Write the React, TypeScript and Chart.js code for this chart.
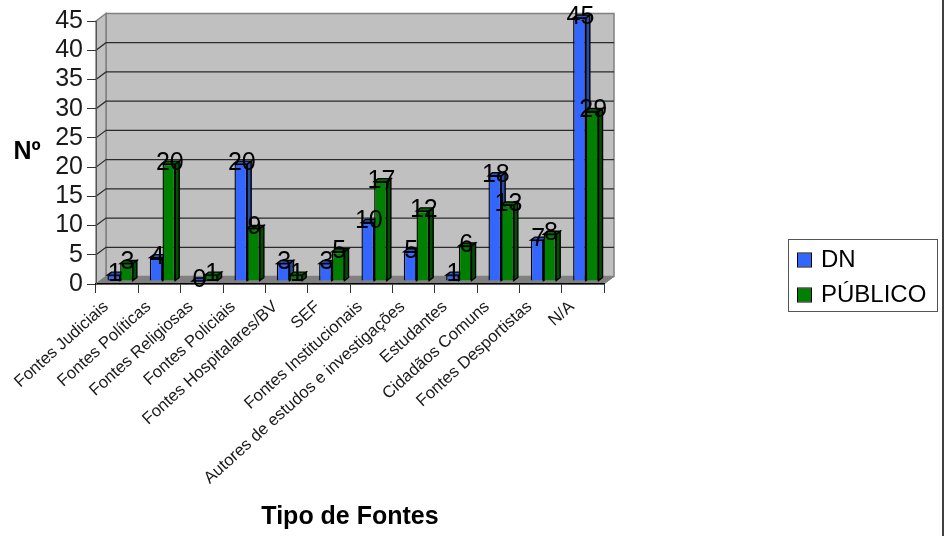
import React, { useEffect, useRef } from "react";
import { Chart, registerables } from "chart.js";

Chart.register(...registerables);

const categories = [
  "Fontes Judiciais",
  "Fontes Políticas",
  "Fontes Religiosas",
  "Fontes Policiais",
  "Fontes Hospitalares/BV",
  "SEF",
  "Fontes Institucionais",
  "Autores de estudos e investigações",
  "Estudantes",
  "Cidadãos Comuns",
  "Fontes Desportistas",
  "N/A",
];
const dnValues = [1, 4, 0, 20, 3, 3, 10, 5, 1, 18, 7, 45];
const publicoValues = [3, 20, 1, 9, 1, 5, 17, 12, 6, 13, 8, 29];
const yTitle = "Nº";
const xTitle = "Tipo de Fontes";

const FONT = '"Liberation Sans", Arial, sans-serif';
const BLUE = "#3366FF";
const GREEN = "#008000";
const SIDES = [
  { top: "#2a55d0", side: "#264da8" },
  { top: "#006a00", side: "#005000" },
];
const WALL_DX = 10;
const WALL_DY = -7.5;
const BAR_DX = 3;
const BAR_DY = -3;
const FACE_DX = 4;
const FACE_DY = -3;

const poly = (ctx: CanvasRenderingContext2D, pts: number[][], fill: string, stroke: string, lw = 1.4) => {
  ctx.beginPath();
  pts.forEach((p, i) => (i ? ctx.lineTo(p[0], p[1]) : ctx.moveTo(p[0], p[1])));
  ctx.closePath();
  ctx.fillStyle = fill;
  ctx.fill();
  ctx.lineWidth = lw;
  ctx.strokeStyle = stroke;
  ctx.stroke();
};

const plugin3d = {
  id: "threeD",
  beforeDraw(chart: any) {
    const { ctx, chartArea: a, scales } = chart;
    ctx.save();
    ctx.fillStyle = "#ffffff";
    ctx.fillRect(0, 0, chart.width, chart.height);
    const { left: l, right: r, top: t, bottom: b } = a;
    const d = WALL_DX;
    const e = WALL_DY;
    poly(ctx, [[l + d, t + e], [r + d, t + e], [r + d, b + e], [l + d, b + e]], "#C0C0C0", "#808080", 1.5);
    poly(ctx, [[l, t], [l + d, t + e], [l + d, b + e], [l, b]], "#C0C0C0", "#808080", 1.5);
    scales.y.ticks.forEach((tk: any) => {
      if (tk.value === 0 || tk.value === 45) return;
      const y = scales.y.getPixelForValue(tk.value);
      ctx.beginPath();
      ctx.moveTo(l, y);
      ctx.lineTo(l + d, y + e);
      ctx.lineTo(r + d, y + e);
      ctx.lineWidth = 1.2;
      ctx.strokeStyle = "#2a2a2a";
      ctx.stroke();
    });
    poly(ctx, [[l, b], [l + d, b + e], [r + d, b + e], [r, b]], "#808080", "#808080", 1);
    // page edge line
    ctx.fillStyle = "#404040";
    ctx.fillRect(942, 0, 2, chart.height);
    ctx.restore();
  },
  beforeDatasetsDraw(chart: any) {
    const { ctx } = chart;
    ctx.save();
    ctx.translate(BAR_DX, BAR_DY);
    [0, 1].forEach((di) => {
      chart.getDatasetMeta(di).data.forEach((bar: any) => {
        const { x, y, base, width } = bar.getProps(["x", "y", "base", "width"], true);
        const x0 = x - width / 2;
        const x1 = x + width / 2;
        const c = SIDES[di];
        poly(ctx, [[x1, y], [x1 + FACE_DX, y + FACE_DY], [x1 + FACE_DX, base + FACE_DY], [x1, base]], c.side, "#000000");
        poly(ctx, [[x0, y], [x0 + FACE_DX, y + FACE_DY], [x1 + FACE_DX, y + FACE_DY], [x1, y]], c.top, "#000000");
      });
    });
  },
  afterDatasetsDraw(chart: any) {
    const { ctx } = chart;
    ctx.restore();
    // value labels
    ctx.save();
    ctx.font = `25px ${FONT}`;
    ctx.fillStyle = "#000000";
    ctx.textAlign = "center";
    ctx.textBaseline = "middle";
    [0, 1].forEach((di) => {
      const ds = chart.data.datasets[di];
      chart.getDatasetMeta(di).data.forEach((bar: any, i: number) => {
        const { x, y } = bar.getProps(["x", "y"], true);
        ctx.fillText(String(ds.data[i]), x + BAR_DX + 1, y + BAR_DY - 1);
      });
    });
    // y title
    ctx.font = `bold 25px ${FONT}`;
    ctx.fillText(yTitle, 27, 152);
    // legend
    const bx = 788.5, by = 239.5, bw = 149, bh = 72;
    ctx.fillStyle = "#ffffff";
    ctx.strokeStyle = "#555555";
    ctx.lineWidth = 1;
    ctx.fillRect(bx, by, bw, bh);
    ctx.strokeRect(bx, by, bw, bh);
    ctx.font = `24px ${FONT}`;
    ctx.textAlign = "left";
    chart.data.datasets.forEach((ds: any, i: number) => {
      const cy = by + 20.5 + i * 35;
      ctx.fillStyle = ds.backgroundColor;
      ctx.fillRect(798, cy - 6.5, 13, 13);
      ctx.strokeStyle = "#000000";
      ctx.strokeRect(797.5, cy - 7, 14, 14);
      ctx.fillStyle = "#000000";
      ctx.fillText(ds.label, 821, cy + 0.5);
    });
    ctx.restore();
  },
};

export default function App() {
  const ref = useRef<HTMLCanvasElement>(null);
  useEffect(() => {
    const chart = new Chart(ref.current as HTMLCanvasElement, {
      type: "bar",
      data: {
        labels: categories,
        datasets: [
          { label: "DN", data: dnValues, backgroundColor: BLUE, borderColor: "#000000", borderWidth: 1.4, clip: false },
          { label: "PÚBLICO", data: publicoValues, backgroundColor: GREEN, borderColor: "#000000", borderWidth: 1.4, clip: false },
        ],
      } as any,
      options: {
        responsive: false,
        animation: false,
        layout: { padding: { top: 21, right: 343, left: 0, bottom: 0 } },
        datasets: { bar: { barPercentage: 1, categoryPercentage: 0.6 } },
        plugins: { legend: { display: false }, title: { display: false }, tooltip: { enabled: false } },
        scales: {
          x: {
            afterFit: (s: any) => { s.height = 252; },
            grid: { drawOnChartArea: false, color: "#333333", tickLength: 9, offset: true },
            border: { color: "#000000", width: 1.5 },
            ticks: {
              autoSkip: false,
              minRotation: 42,
              maxRotation: 42,
              padding: 4,
              labelOffset: -11,
              color: "#1a1a1a",
              font: { family: FONT, size: 16.7 },
            },
            title: {
              display: true,
              text: xTitle,
              color: "#000000",
              font: { family: FONT, size: 25, weight: "bold" },
              padding: { top: 0, bottom: 4 },
            },
          },
          y: {
            min: 0,
            max: 45,
            afterFit: (s: any) => { s.width = 96; },
            grid: { drawOnChartArea: false, color: "#333333", tickLength: 9 },
            border: { color: "#555555", width: 1 },
            ticks: {
              stepSize: 5,
              autoSkip: false,
              padding: 4,
              color: "#1a1a1a",
              font: { family: FONT, size: 25 },
            },
          },
        },
      } as any,
      plugins: [plugin3d as any],
    });
    return () => chart.destroy();
  }, []);
  return (
    <div style={{ position: "absolute", left: 0, top: 0, width: 947, height: 536 }}>
      <canvas ref={ref} width={947} height={536} style={{ display: "block" }} />
    </div>
  );
}
